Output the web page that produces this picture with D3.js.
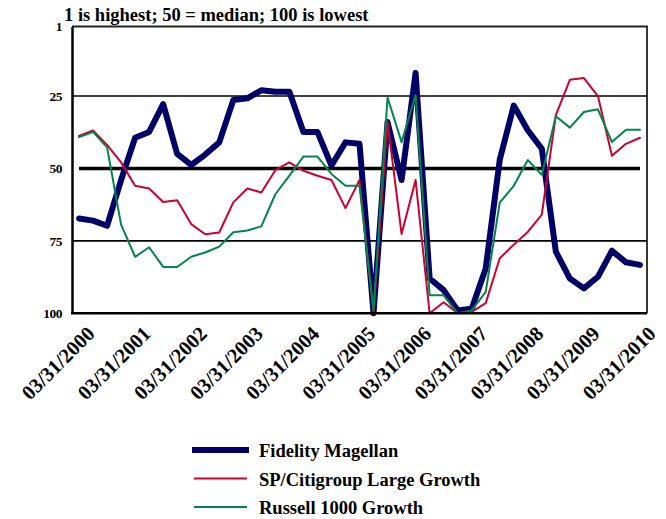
<!DOCTYPE html>
<html>
<head>
<meta charset="utf-8">
<script src="https://cdn.jsdelivr.net/npm/d3@7"></script>
<style>
  body { margin: 0; background: #fff; }
  text { font-family: "Liberation Serif", "Times New Roman", serif; font-weight: bold; fill: #000; }
</style>
</head>
<body>
<script>
let w = 666;
let h = 519;

// quarter-end dates, 03/31/2000 .. 03/31/2010
let quarters = [
  "03/31/2000","06/30/2000","09/30/2000","12/31/2000",
  "03/31/2001","06/30/2001","09/30/2001","12/31/2001",
  "03/31/2002","06/30/2002","09/30/2002","12/31/2002",
  "03/31/2003","06/30/2003","09/30/2003","12/31/2003",
  "03/31/2004","06/30/2004","09/30/2004","12/31/2004",
  "03/31/2005","06/30/2005","09/30/2005","12/31/2005",
  "03/31/2006","06/30/2006","09/30/2006","12/31/2006",
  "03/31/2007","06/30/2007","09/30/2007","12/31/2007",
  "03/31/2008","06/30/2008","09/30/2008","12/31/2008",
  "03/31/2009","06/30/2009","09/30/2009","12/31/2009",
  "03/31/2010"
];
let tickLabels = ["03/31/2000","03/31/2001","03/31/2002","03/31/2003","03/31/2004",
                  "03/31/2005","03/31/2006","03/31/2007","03/31/2008","03/31/2009","03/31/2010"];
let yTicks = [1, 25, 50, 75, 100];
let medianRank = 50;

// percentile rank (1 = best, 100 = worst)
let magellan = [67.3, 68, 69.8, 54, 39.4, 37.4, 27.8, 45, 48.8, 45.2,
                41, 26.4, 25.8, 23, 23.5, 23.5, 37.4, 37.4, 49, 41,
                41.5, 100, 34, 54, 17, 88, 92, 99, 98.4, 84.5,
                47, 28.3, 36.8, 43.2, 78.7, 88, 91.4, 87.4, 78.4, 82.4,
                83.3];
let spGrowth = [38.8, 36.9, 41.9, 47.9, 56, 56.9, 61.6, 61, 69.2, 72.7,
                72.1, 61.7, 56.9, 58.3, 50.6, 47.9, 50.8, 52.5, 54, 63.7,
                54, 100, 33.9, 72.6, 54, 100, 96.2, 100, 99.5, 96.5,
                81, 76.3, 71.9, 65.9, 31.6, 19.4, 18.8, 25, 45.6, 41.5,
                39.4];
let russell = [39.2, 37.4, 42.7, 69.4, 80.5, 77.2, 84, 84, 80.5, 79,
               77, 72, 71.4, 70, 58.9, 52.5, 45.9, 45.9, 51.9, 56,
               56, 99, 25.5, 40.9, 24.7, 93.8, 93.8, 100, 99, 92.6,
               61.8, 56, 47.1, 52.2, 32, 35.9, 30.5, 29.6, 40.9, 36.6,
               36.6];

let seriesNames = ["Fidelity Magellan", "SP/Citigroup Large Growth", "Russell 1000 Growth"];
let seriesColors = ["#000066", "#cc0033", "#00864a"];
let seriesWidths = [6, 2, 2];
let seriesValues = [magellan, spGrowth, russell];

let pLeft = 72, pRight = 647, pTop = 26.5, pBottom = 313.3;

let x = d3.scalePoint().domain(quarters).range([pLeft, pRight]).padding(0.5);
let y = d3.scaleLinear().domain([1, 100]).range([pTop, pBottom]);

let svg = d3.select("body")
            .append("svg")
            .attr("width", w)
            .attr("height", h);

// gridlines at 25 and 75
svg.selectAll("line.grid")
  .data([25, 75])
  .enter()
  .append("line")
    .attr("class", "grid")
    .attr("x1", pLeft).attr("x2", pRight)
    .attr("y1", d => y(d)).attr("y2", d => y(d))
    .attr("stroke", "#000")
    .attr("stroke-width", 1.6);

// frame
svg.append("path")
  .attr("d", `M${pLeft},${pTop}H${pRight}V${pBottom}`)
  .attr("fill", "none")
  .attr("stroke", "#222")
  .attr("stroke-width", 1.8);

// median line
svg.append("line")
  .attr("x1", x(quarters[0])).attr("x2", x(quarters[quarters.length - 1]))
  .attr("y1", y(medianRank)).attr("y2", y(medianRank))
  .attr("stroke", "#000")
  .attr("stroke-width", 3.5);

let line = d3.line()
  .x((d, i) => x(quarters[i]))
  .y(d => y(d));

// draw order: magellan, then red, then green on top
[0, 1, 2].forEach(k => {
  svg.append("path")
    .datum(seriesValues[k])
    .attr("d", line)
    .attr("fill", "none")
    .attr("stroke", seriesColors[k])
    .attr("stroke-width", seriesWidths[k])
    .attr("stroke-linejoin", "round")
    .attr("stroke-linecap", "round");
});

// axes lines
let yAxis = d3.axisLeft(y).tickValues(yTicks).tickSize(0).tickPadding(10);
let gy = svg.append("g")
  .attr("transform", `translate(${pLeft},0)`)
  .call(yAxis);
gy.select(".domain").attr("stroke", "#000").attr("stroke-width", 2.5);
gy.selectAll("text")
  .style("font-family", "'Liberation Serif', serif")
  .style("font-weight", "bold")
  .style("font-size", "13.5px")
  .attr("letter-spacing", "-0.5");

svg.append("line")
  .attr("x1", pLeft - 1).attr("x2", pRight)
  .attr("y1", pBottom).attr("y2", pBottom)
  .attr("stroke", "#000")
  .attr("stroke-width", 2.5);

// x labels, rotated
svg.selectAll("text.xlab")
  .data(tickLabels)
  .enter()
  .append("text")
    .attr("class", "xlab")
    .attr("text-anchor", "end")
    .attr("font-size", 20.5)
    .attr("transform", d => `translate(${x(d) + 17},335) rotate(-45)`)
    .text(d => d);

// title note
svg.append("text")
  .attr("x", 64).attr("y", 21)
  .attr("font-size", 18.5)
  .text("1 is highest; 50 = median; 100 is lowest");

// legend
let legend = svg.selectAll("g.leg")
  .data(seriesNames)
  .enter()
  .append("g")
    .attr("class", "leg")
    .attr("transform", (d, i) => `translate(192,${450 + i * 28.5})`);

legend.append("line")
  .attr("x1", (d, i) => i == 0 ? 0 : 2)
  .attr("x2", (d, i) => i == 0 ? 57 : 55)
  .attr("stroke", (d, i) => seriesColors[i])
  .attr("stroke-width", (d, i) => i == 0 ? 6 : 2.2);

legend.append("text")
  .attr("x", 67).attr("y", 7)
  .attr("font-size", 18.5)
  .text(d => d);
</script>
</body>
</html>
